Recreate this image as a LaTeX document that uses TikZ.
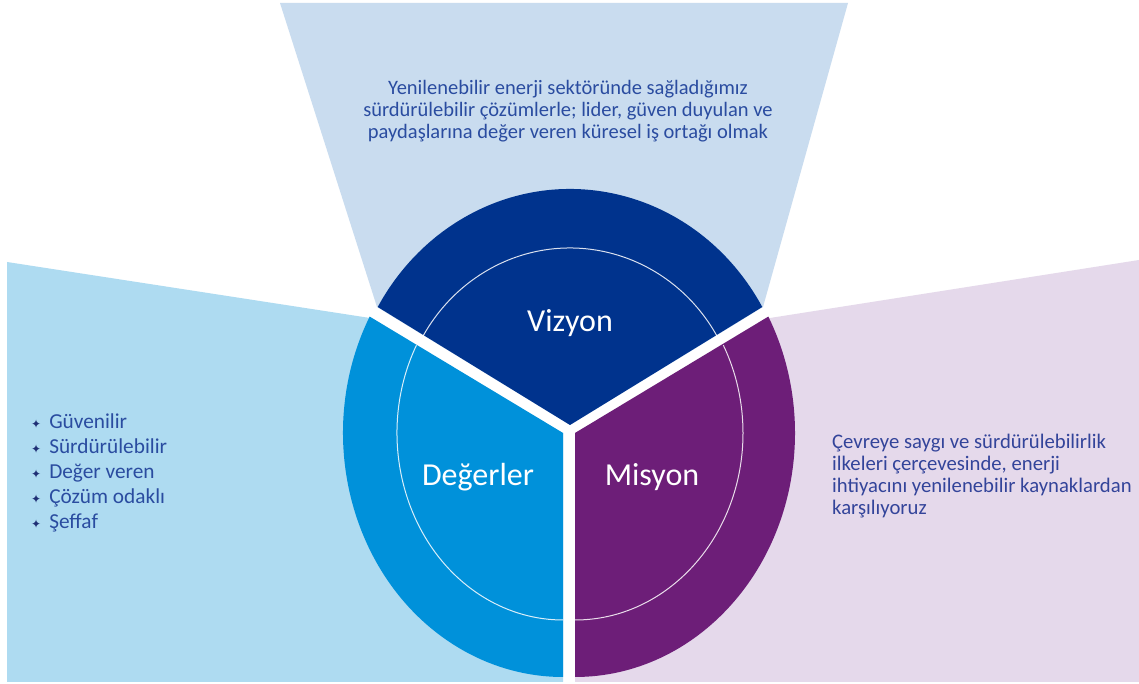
\documentclass[tikz,border=0pt]{standalone}
\usepackage{fontspec}
\setmainfont{Carlito}
\newfontfamily\symfont{DejaVu Sans}
\definecolor{vizc}{HTML}{00338D}
\definecolor{degc}{HTML}{0091DA}
\definecolor{misc}{HTML}{6D1E78}
\definecolor{topbg}{HTML}{C9DCEF}
\definecolor{leftbg}{HTML}{AEDBF1}
\definecolor{rightbg}{HTML}{E5D9EB}
\definecolor{txtc}{HTML}{2A4CA0}
\definecolor{txtr}{HTML}{33449A}
\definecolor{bulc}{HTML}{1F2F75}
\newcommand{\bul}{{\symfont\fontsize{12}{12}\selectfont\textcolor{bulc}{✦}}\hspace{8pt}}
\tikzset{
  innerline/.style={draw=white, draw opacity=0.85, line width=1pt},
  lbl/.style={text=white, font=\fontsize{32}{36}\selectfont, inner sep=0pt},
  bodytext/.style={inner sep=0pt, font=\fontsize{20.5}{22}\selectfont}
}
\begin{document}
\begin{tikzpicture}[x=1pt,y=1pt]
\useasboundingbox (0,0) rectangle (1139,684);
\fill[white] (0,0) rectangle (1139,684);
% background fans
\fill[topbg] (280,681) -- (848,681) -- (763,377) -- (570,259) -- (377,377) -- cycle;
\fill[leftbg] (7,422) -- (370,366) -- (563,251) -- (563,2) -- (7,2) -- cycle;
\fill[rightbg] (1139,424) -- (770,366) -- (575,251) -- (575,2) -- (1139,2) -- cycle;
% sectors
\coordinate (V) at (570,259);
\coordinate (D) at (563,251);
\coordinate (M) at (575,251);
\fill[vizc] (V) -- ++(30:222 and 236) arc[start angle=30,end angle=150,x radius=222,y radius=236] -- cycle;
\fill[degc] (D) -- ++(151.5:220 and 244) arc[start angle=151.5,end angle=270,x radius=220,y radius=244] -- cycle;
\fill[misc] (M) -- ++(270:220 and 244) arc[start angle=270,end angle=388.5,x radius=220,y radius=244] -- cycle;
% inner circle segments
\draw[innerline] (V) ++(30:170 and 177) arc[start angle=30,end angle=150,x radius=170,y radius=177];
\draw[innerline] (D) ++(152:166 and 187) arc[start angle=152,end angle=270,x radius=166,y radius=187];
\draw[innerline] (M) ++(270:168 and 187) arc[start angle=270,end angle=388,x radius=168,y radius=187];
% labels
\node[lbl] (vizyon) at (570,361) {Vizyon};
\node[lbl] (degerler) at (478,207) {Değerler};
\node[lbl] (misyon) at (652,207) {Misyon};
% texts
\node[bodytext, text=txtc, align=center] (viztext) at (568,573)
  {Yenilenebilir enerji sektöründe sağladığımız\\
   sürdürülebilir çözümlerle; lider, güven duyulan ve\\
   paydaşlarına değer veren küresel iş ortağı olmak};
\node[inner sep=0pt, anchor=west, align=left, text=txtc, font=\fontsize{21.3}{25}\selectfont] (values) at (31,211)
  {\bul Güvenilir\\
   \bul Sürdürülebilir\\
   \bul Değer veren\\
   \bul Çözüm odaklı\\
   \bul Şeffaf};
\node[bodytext, anchor=west, align=left, text=txtr, font=\fontsize{20.7}{22}\selectfont] (mistext) at (832,208)
  {Çevreye saygı ve sürdürülebilirlik\\
   ilkeleri çerçevesinde, enerji\\
   ihtiyacını yenilenebilir kaynaklardan\\
   karşılıyoruz};
\end{tikzpicture}
\end{document}
